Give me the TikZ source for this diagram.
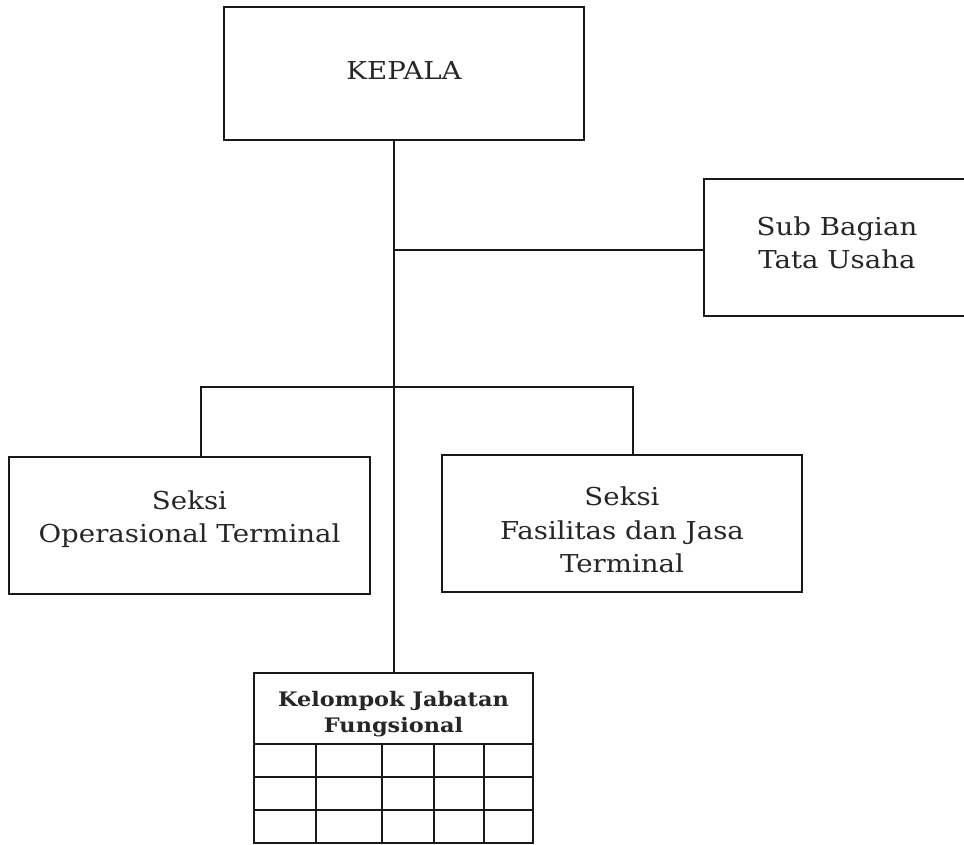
\documentclass[tikz,border=0pt]{standalone}
\usepackage{fontspec}
\setmainfont[FakeStretch=1.12]{DejaVu Serif}
\usetikzlibrary{calc}
\begin{document}
\begin{tikzpicture}[x=0.75pt,y=-0.75pt,
  box/.style={draw=black!90,line width=1.5pt,rectangle,inner sep=0pt},
  txt/.style={align=center,font=\fontsize{18.5}{25}\selectfont,text=black!85},
  link/.style={draw=black!90,line width=1.4pt},
  grid line/.style={draw=black!90,line width=1.4pt}]
\useasboundingbox (0,0) rectangle (964,844);
\clip (0,0) rectangle (964,844);
\fill[white] (0,0) rectangle (964,844);

% units
\node[box,minimum width=270pt,minimum height=99.75pt] (kepala) at (404,73.5) {};
\node[txt] (kepalatxt) at (404,71) {KEPALA};

\node[box,minimum width=222pt,minimum height=102.75pt] (sub) at (852,247.5) {};
\node[txt] (subtxt) at (837,243) {Sub Bagian\\Tata Usaha};

\node[box,minimum width=270.75pt,minimum height=102.75pt] (ops) at (189.5,525.5) {};
\node[txt] (opstxt) at (189.5,519) {Seksi\\Operasional Terminal};

\node[box,minimum width=270pt,minimum height=102.75pt] (fas) at (622,523.5) {};
\node[txt] (fastxt) at (622,530) {Seksi\\Fasilitas dan Jasa\\Terminal};

% functional group table
\node[box,minimum width=209.25pt,minimum height=127.5pt] (kjf) at (393.5,758) {};
\node[txt,font=\fontsize{15}{19.5}\selectfont\bfseries] (kjftxt) at (393.5,714) {Kelompok Jabatan\\Fungsional};
\foreach \yy in {744,777,810}
  \draw[grid line] (kjf.west |- 0,\yy) -- (kjf.east |- 0,\yy);
\foreach \xx in {316,382,434,484}
  \draw[grid line] (\xx,744) -- (\xx,843);

% connectors
\coordinate (trunkA) at (394,250);
\coordinate (bl) at (201,387);
\coordinate (br) at (633,387);
\draw[link] (kepala.south -| trunkA) -- (kjf.north -| trunkA);
\draw[link] (trunkA) -- (trunkA -| sub.west);
\draw[link] (ops.north -| bl) -- (bl) -- (br) -- (fas.north -| br);
\end{tikzpicture}
\end{document}
